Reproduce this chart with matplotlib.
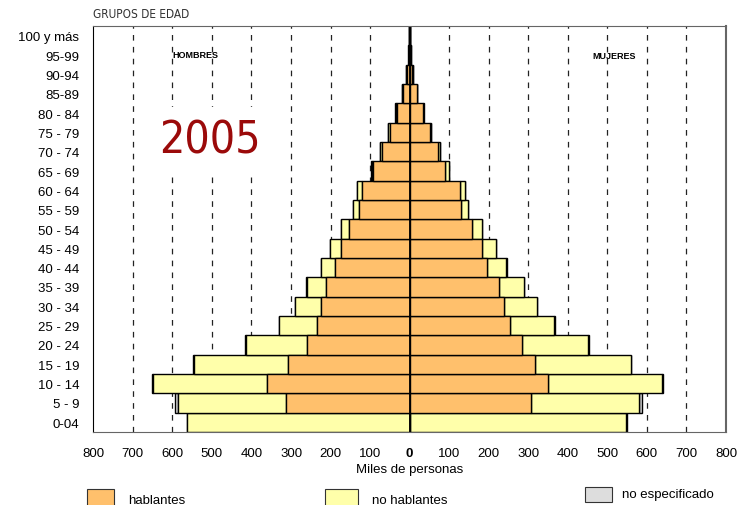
import matplotlib
matplotlib.use("Agg")
import matplotlib.pyplot as plt
from matplotlib import font_manager
from matplotlib.font_manager import FontProperties
from matplotlib.patches import Rectangle
import numpy as np

# ---------------- data (0-04 at bottom ... 100 y más at top) ----------------
groups = ['0-04', '5 - 9', '10 - 14', '15 - 19', '20 - 24', '25 - 29', '30 - 34',
          '35 - 39', '40 - 44', '45 - 49', '50 - 54', '55 - 59', '60 - 64',
          '65 - 69', '70 - 74', '75 - 79', '80 - 84', '85-89', '90-94', '95-99',
          '100 y más']

# Hombres (miles)
hab_m   = [0, 313, 360, 307, 259, 234, 223, 212, 189, 174, 154, 129, 120, 93, 70, 50, 33, 18, 7, 2, 0.5]
nohab_m = [562, 274, 288, 239, 156, 96, 66, 48, 35, 27, 19, 13, 12, 3, 5, 4, 2, 1, 2, 0.5, 0.3]
noesp_m = [1, 7, 3, 1, 1, 1, 1, 1, 1, 1, 1, 1, 1, 2, 1, 1, 1, 0.5, 0.5, 0.5, 0]

# Mujeres (miles)
hab_f   = [0, 306, 351, 318, 284, 254, 238, 225, 196, 182, 157, 130, 127, 89, 72, 52, 34, 18, 7, 2, 0.5]
nohab_f = [548, 275, 288, 242, 168, 112, 84, 63, 48, 36, 26, 17, 13, 10, 4, 1, 1, 0.5, 0.7, 0.7, 0.5]
noesp_f = [1, 6, 1, 1, 1, 1, 1, 1, 1, 1, 1, 1, 1, 1, 1, 1, 1, 0.5, 0.3, 0.3, 0]

xticks = [-800, -700, -600, -500, -400, -300, -200, -100, 0, 100, 200, 300, 400, 500, 600, 700, 800]
xticklabels = ['800', '700', '600', '500', '400', '300', '200', '100', '0',
               '100', '200', '300', '400', '500', '600', '700', '800']
legend_labels = ['hablantes', 'no hablantes', 'no especificado']
year = '2005'

# ---------------- fonts ----------------
names = {f.name for f in font_manager.fontManager.ttflist}
base = 'Liberation Sans' if 'Liberation Sans' in names else 'DejaVu Sans'
plt.rcParams['font.family'] = [base, 'DejaVu Sans']


def find_condensed():
    cands = []
    for f in font_manager.fontManager.ttflist:
        nm = (f.name or '')
        st = f.stretch
        is_cond = ('Narrow' in nm or 'Condensed' in nm or 'condensed' in str(st)
                   or (isinstance(st, (int, float)) and st < 500)
                   or 'Condensed' in f.fname or 'Narrow' in f.fname)
        if is_cond and f.weight in ('normal', 400, 'regular', 'book') and f.style == 'normal':
            pri = 0 if 'Liberation' in nm else (1 if 'DejaVu' in nm else 2)
            cands.append((pri, f.fname))
    if cands:
        cands.sort()
        return FontProperties(fname=cands[0][1])
    return None


cond_fp = find_condensed()

c_hab = '#FFC06C'
c_nohab = '#FFFFAA'
c_noesp = '#D9D9D9'

fig = plt.figure(figsize=(7.5, 5.06), dpi=100)
ax = fig.add_axes([0.1244, 0.1443, 0.8436, 0.8023])

y = np.arange(len(groups))
hm = -np.array(hab_m, dtype=float)
nm_ = -np.array(nohab_m, dtype=float)
em = -np.array(noesp_m, dtype=float)
hf = np.array(hab_f, dtype=float)
nf = np.array(nohab_f, dtype=float)
ef = np.array(noesp_f, dtype=float)

kw = dict(height=1.0, edgecolor='black', linewidth=1.0, zorder=3)
ax.barh(y, em, left=hm + nm_, color=c_noesp, **kw)
ax.barh(y, nm_, left=hm, color=c_nohab, **kw)
ax.barh(y, hm, color=c_hab, **kw)
ax.barh(y, ef, left=hf + nf, color=c_noesp, **kw)
ax.barh(y, nf, left=hf, color=c_nohab, **kw)
ax.barh(y, hf, color=c_hab, **kw)

ax.axvline(0, color='black', lw=1.3, zorder=5)

for xv in xticks:
    if xv not in (0, -800, 800):
        ax.axvline(xv, color='#222222', lw=0.9, dashes=(4.5, 5), zorder=1)

ax.set_xlim(-800, 800)
ax.set_ylim(-0.5, len(groups) - 0.5)
ax.set_xticks(xticks)
ax.set_xticklabels(xticklabels, fontsize=9.5)
for t in ax.get_xticklabels():
    if t.get_text() == '0':
        t.set_fontweight('bold')
ax.set_yticks(y)
ax.set_yticklabels(groups, fontsize=9.5)
ax.tick_params(axis='y', length=0, pad=10)
ax.tick_params(axis='x', length=0, pad=11)
ax.set_xlabel('Miles de personas', fontsize=9.5, labelpad=3)

for side in ['top', 'right', 'bottom']:
    ax.spines[side].set_color('#666666')
ax.spines['left'].set_color('black')
ax.spines['right'].set_linewidth(1.5)
for s in ax.spines.values():
    s.set_zorder(6)

if cond_fp is not None:
    gp = cond_fp.copy()
    gp.set_size(8.5)
    fig.text(93 / 750, 1 - 15 / 506, 'GRUPOS DE EDAD', fontproperties=gp, color='#333333',
             ha='left', va='center')
else:
    fig.text(93 / 750, 1 - 15 / 506, 'GRUPOS DE EDAD', fontsize=7.5, color='#333333',
             ha='left', va='center')

ax.text(-600, 19.05, 'HOMBRES', fontsize=6.5, fontweight='bold', ha='left', va='center', zorder=7)
ax.text(462, 18.95, 'MUJERES', fontsize=6.5, fontweight='bold', ha='left', va='center', zorder=7)

ybox = dict(facecolor='white', edgecolor='none', boxstyle='square,pad=0.25')
if cond_fp is not None:
    yp = cond_fp.copy()
    yp.set_size(32)
    ax.text(-633, 14.6, year, fontproperties=yp, color='#9B0A0A',
            ha='left', va='center', zorder=4, bbox=ybox)
else:
    ax.text(-630, 14.6, year, fontsize=30, color='#9B0A0A',
            ha='left', va='center', zorder=4, bbox=ybox)

# ---------------- legend (bottom) ----------------
lx = [87 / 750, 325 / 750, 585 / 750]
ly = [1 - 508 / 506, 1 - 508 / 506, 1 - 503 / 506]
lh = [18 / 506, 18 / 506, 15 / 506]
lw_ = [27 / 750, 33 / 750, 27 / 750]
cols = [c_hab, c_nohab, '#DDDDDD']
tx = [128 / 750, 372 / 750, 622 / 750]
ty = [1 - 501 / 506, 1 - 501 / 506, 1 - 495 / 506]
for i in range(3):
    fig.patches.append(Rectangle((lx[i], ly[i]), lw_[i], lh[i], transform=fig.transFigure,
                                 facecolor=cols[i], edgecolor='#333333', lw=0.8))
    fig.text(tx[i], ty[i], legend_labels[i], fontsize=9.5, ha='left', va='center')

fig.savefig('out.png', dpi=100)
